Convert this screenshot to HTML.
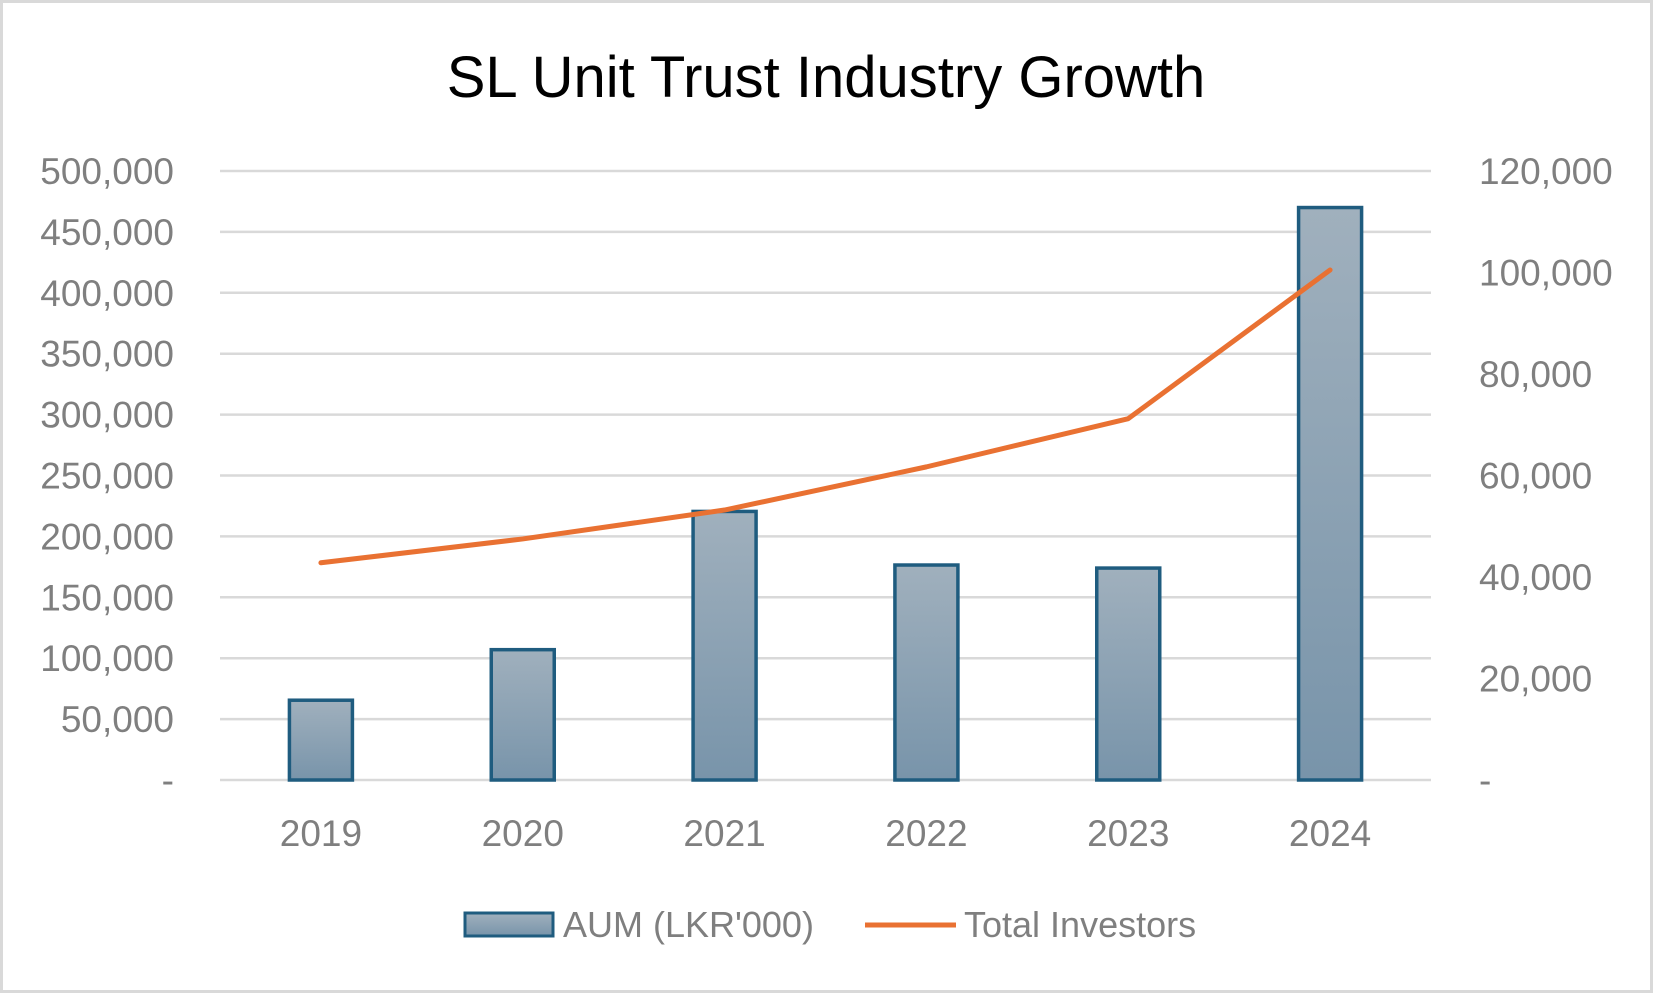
<!DOCTYPE html>
<html><head><meta charset="utf-8"><style>
html,body{margin:0;padding:0;background:#fff;}
svg{display:block;font-family:"Liberation Sans",sans-serif;}
</style></head><body>
<svg width="1653" height="993" viewBox="0 0 1653 993">
<defs><linearGradient id="bg" x1="0" y1="0" x2="0" y2="1"><stop offset="0" stop-color="#a0b0bd"/><stop offset="1" stop-color="#7894aa"/></linearGradient></defs>
<rect x="1.5" y="1.5" width="1650" height="990" fill="#fff" stroke="#d9d9d9" stroke-width="3"/>
<text x="826" y="97" text-anchor="middle" font-size="58" fill="#000">SL Unit Trust Industry Growth</text>
<g id="grid"></g><g id="bars"></g><g id="line"></g><g id="ticks"></g>
<g>
<rect x="465" y="913" width="88" height="23" fill="url(#bg)" stroke="#1f5c7f" stroke-width="3"/>
<text x="563" y="937" font-size="36" fill="#7f7f7f">AUM (LKR'000)</text>
<line x1="865" y1="925" x2="956" y2="925" stroke="#e97132" stroke-width="5"/>
<text x="964" y="937" font-size="36" fill="#7f7f7f">Total Investors</text>
</g>
</svg>
<script>
const categories=["2019","2020","2021","2022","2023","2024"];
const aumValues=[65500,107000,220500,176500,174000,470000];
const investorValues=[42800,47500,53200,61700,71200,100500];
const leftTicks=[0,50000,100000,150000,200000,250000,300000,350000,400000,450000,500000];
const rightTicks=[0,20000,40000,60000,80000,100000,120000];
const NS="http://www.w3.org/2000/svg";
const X0=220,X1=1431,YT=171,YB=780;
const band=(X1-X0)/categories.length;
const xc=i=>X0+band*(i+0.5);
const yL=v=>YB-(v/500000)*(YB-YT);
const yR=v=>YB-(v/120000)*(YB-YT);
const fmt=v=>v===0?"-":v.toLocaleString("en-US");
function mk(tag,attrs,parent){const e=document.createElementNS(NS,tag);for(const k in attrs)e.setAttribute(k,attrs[k]);document.getElementById(parent).appendChild(e);return e;}
leftTicks.forEach(v=>{
  const g=mk("line",{x1:X0,x2:X1,y1:yL(v),y2:yL(v),stroke:"#d9d9d9","stroke-width":2.5},"grid");
  
  
  const t=mk("text",{x:174,y:yL(v)+13,"text-anchor":"end","font-size":37,fill:"#7f7f7f"},"ticks");
  t.textContent=fmt(v);
  
  
});
rightTicks.forEach(v=>{
  const t=mk("text",{x:1479,y:yR(v)+13,"text-anchor":"start","font-size":37,fill:"#7f7f7f"},"ticks");
  t.textContent=fmt(v);
  
  
});
categories.forEach((c,i)=>{
  const bw=63;
  const r=mk("rect",{x:xc(i)-bw/2,y:yL(aumValues[i]),width:bw,height:YB-yL(aumValues[i]),fill:"url(#bg)",stroke:"#1f5c7f","stroke-width":3.5},"bars");
  
  
  const t=mk("text",{x:xc(i),y:846,"text-anchor":"middle","font-size":37,fill:"#7f7f7f"},"ticks");
  t.textContent=c;
  
  
});
const pts=investorValues.map((v,i)=>xc(i)+","+yR(v)).join(" ");
const pl=mk("polyline",{points:pts,fill:"none",stroke:"#e97132","stroke-width":5,"stroke-linecap":"round","stroke-linejoin":"round"},"line");


</script>
</body></html>
